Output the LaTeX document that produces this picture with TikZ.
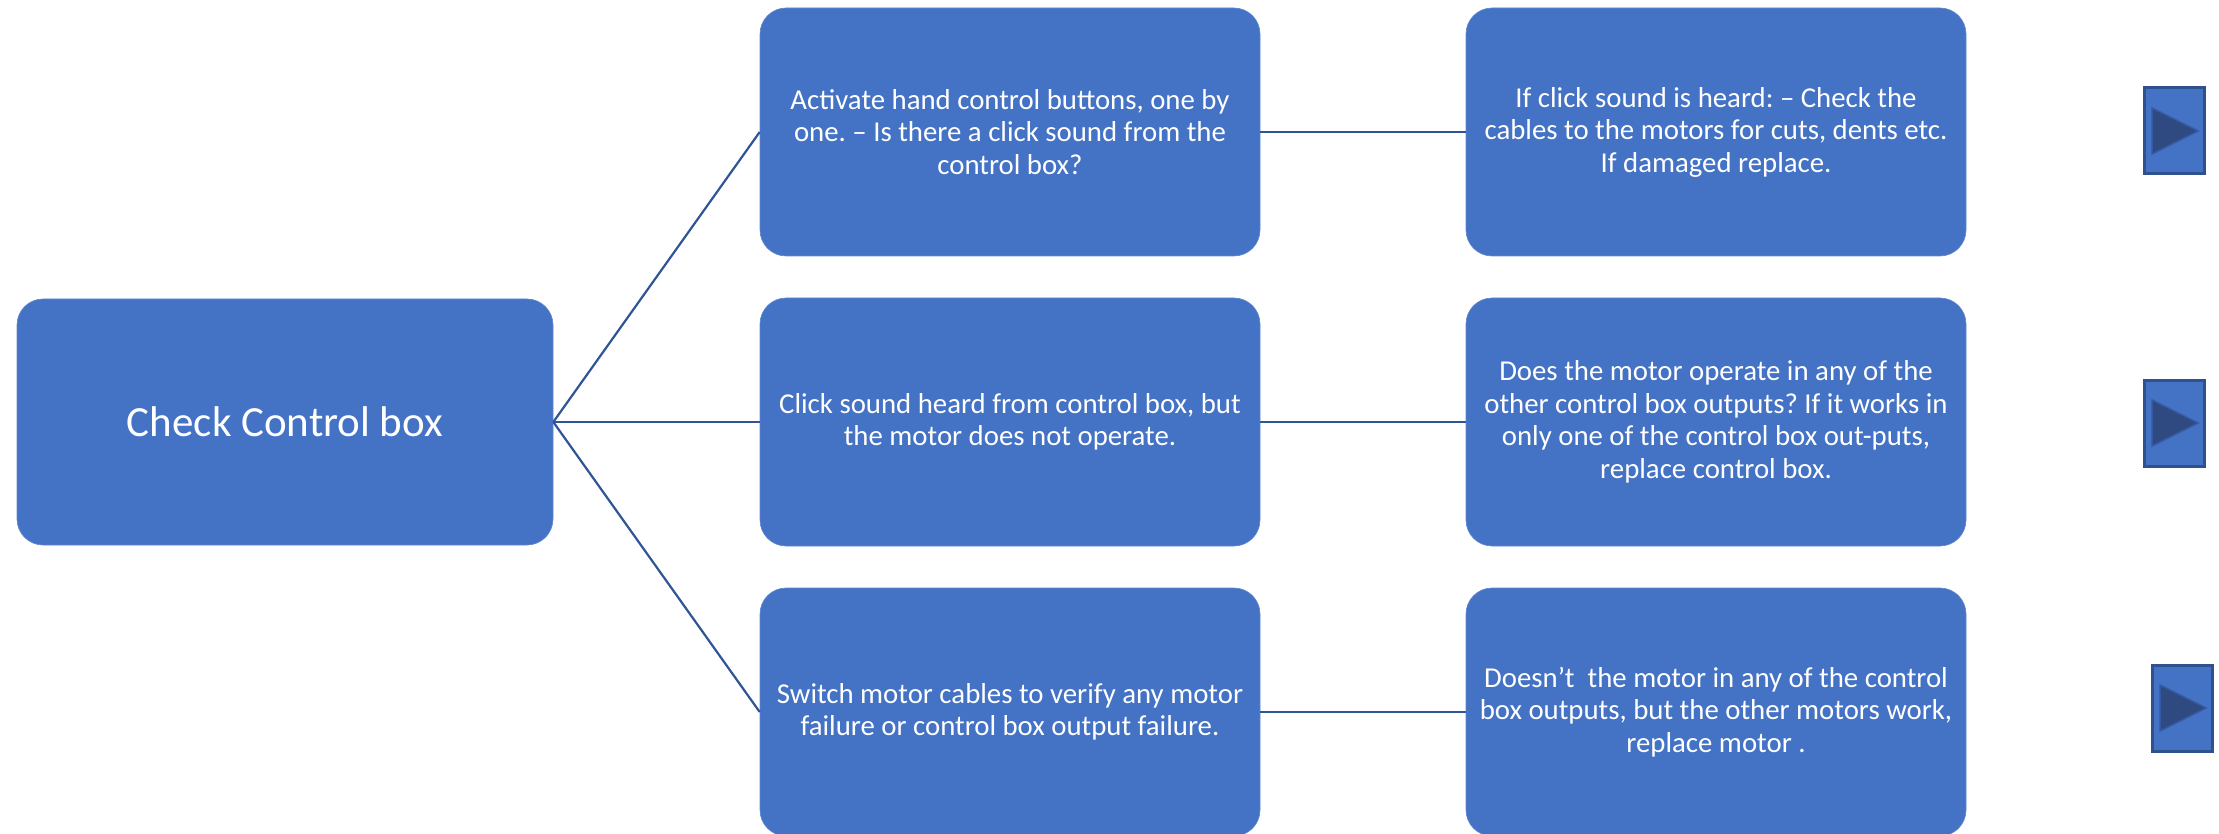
\documentclass[tikz,border=0pt]{standalone}
\usepackage{fontspec}
\setmainfont{Carlito}
\frenchspacing
\definecolor{boxblue}{HTML}{4472C4}
\definecolor{lineblue}{HTML}{2F5597}
\definecolor{btnborder}{HTML}{2F528F}
\definecolor{tridark}{HTML}{2E4A80}
\definecolor{triedge}{HTML}{3558A0}
\begin{document}
\begin{tikzpicture}[x=1pt,y=-1pt,
  box/.style={rectangle, rounded corners=26pt, fill=boxblue, draw=boxblue!85!white, line width=0.6pt,
    minimum width=500pt, minimum height=248pt, inner sep=0pt, align=center, text=white,
    font=\fontsize{28.8}{32.5}\selectfont},
  rootbox/.style={box, minimum width=536pt, minimum height=246pt, font=\fontsize{43}{50}\selectfont},
  conn/.style={draw=lineblue, line width=2.2pt},
  btn/.style={rectangle, fill=boxblue, draw=btnborder, line width=3pt, minimum width=60pt, minimum height=86pt, inner sep=0pt},
  tri/.style={fill=tridark, draw=triedge, line width=1.5pt, line join=miter}
]
\useasboundingbox (0,0) rectangle (2219,834);

\node[rootbox] (root) at (285,422) {Check Control box};

\node[box] (m1) at (1010,132) {Activate hand control buttons, one by\\one. -- Is there a click sound from the\\control box?};
\node[box] (m2) at (1010,422) {Click sound heard from control box, but\\the motor does not operate.};
\node[box] (m3) at (1010,712) {Switch motor cables to verify any motor\\failure or control box output failure.};

\node[box] (r1) at (1716,132) {If click sound is heard: -- Check the\\cables to the motors for cuts, dents etc.\\If damaged replace.};
\node[box] (r2) at (1716,422) {Does the motor operate in any of the\\other control box outputs? If it works in\\only one of the control box out-puts,\\replace control box.};
\node[box] (r3) at (1716,712) {Doesn’t\ \ the motor in any of the control\\box outputs, but the other motors work,\\replace motor .};

\draw[conn] (root.east) -- (m1.west);
\draw[conn] (root.east) -- (m2.west);
\draw[conn] (root.east) -- (m3.west);
\draw[conn] (m1.east) -- (r1.west);
\draw[conn] (m2.east) -- (r2.west);
\draw[conn] (m3.east) -- (r3.west);

\node[btn] (b1) at (2174,131) {};
\node[btn] (b2) at (2174,423) {};
\node[btn] (b3) at (2182,708) {};
\foreach \b in {b1,b2,b3}{
  \draw[tri] ([xshift=-22pt,yshift=23pt]\b.center) -- ([xshift=24pt]\b.center) -- ([xshift=-22pt,yshift=-23pt]\b.center) -- cycle;
}
\end{tikzpicture}
\end{document}
